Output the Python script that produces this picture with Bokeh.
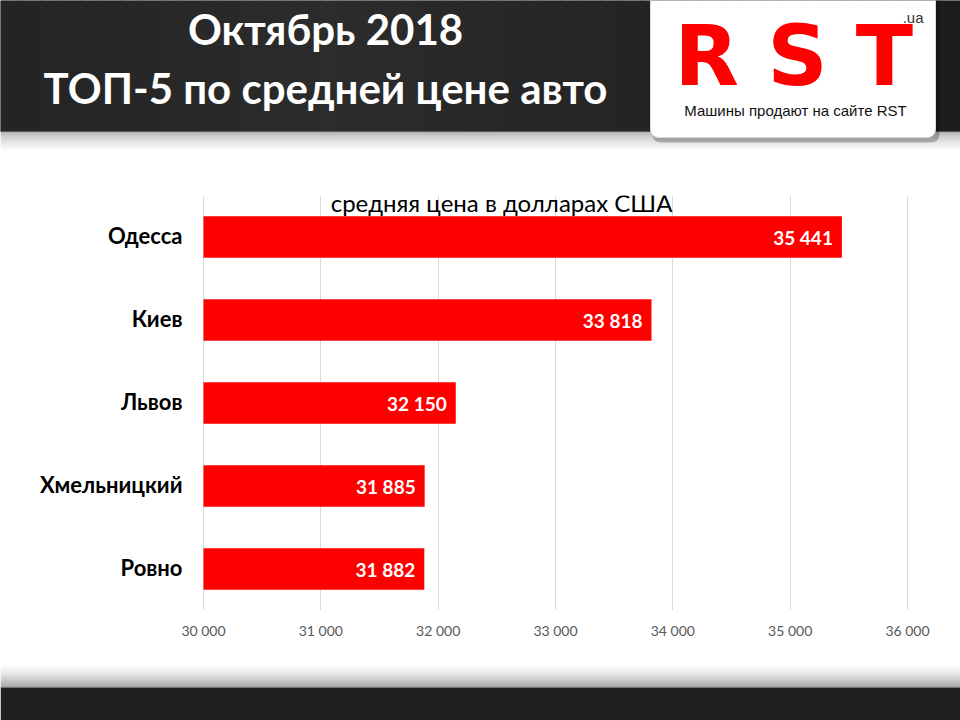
from bokeh.plotting import figure
from bokeh.models import Range1d, FactorRange, FixedTicker, ColumnDataSource, Quad
from bokeh.layouts import column
from bokeh.embed import file_html
from bokeh.resources import INLINE
from bokeh.core.properties import value
from bokeh.transform import dodge

# ---------------- data ----------------
title_lines = ["Октябрь 2018", "ТОП-5 по средней цене авто"]
subtitle = "средняя цена в долларах США"
cities = ["Одесса", "Киев", "Львов", "Хмельницкий", "Ровно"]
prices = [35441, 33818, 32150, 31885, 31882]
price_labels = ["35 441", "33 818", "32 150", "31 885", "31 882"]
x_ticks = [30000, 31000, 32000, 33000, 34000, 35000, 36000]
x_tick_labels = ["30 000", "31 000", "32 000", "33 000", "34 000", "35 000", "36 000"]
logo_main = "RST"
logo_suffix = ".ua"
logo_tagline = "Машины продают на сайте RST"

FONT = "Lato"
W = 960
# pixel anchors of the value axis (left/right ends of the plotted scale)
AX_LEFT_PX, AX_RIGHT_PX = 203, 907


def lerp_hex(c1, c2, t):
    a = [int(c1[i:i + 2], 16) for i in (1, 3, 5)]
    b = [int(c2[i:i + 2], 16) for i in (1, 3, 5)]
    return "#" + "".join("%02x" % int(round(a[k] + (b[k] - a[k]) * t)) for k in range(3))


def bare(fig):
    fig.grid.visible = False
    fig.outline_line_color = None
    fig.background_fill_color = "white"
    fig.border_fill_color = "white"
    return fig


HAS_RADIUS = "border_radius" in Quad.properties()

# ---------------- header ----------------
H_HEAD = 150
h = figure(width=W, height=H_HEAD, x_range=Range1d(0, W), y_range=Range1d(H_HEAD, 0),
           output_backend="svg", toolbar_location=None, min_border=0,
           x_axis_location=None, y_axis_location=None)
bare(h)

n_strips = 48
lefts = [i * 20 for i in range(n_strips)]
rights = [l + 20 for l in lefts]
cols = []
for l in lefts:
    d = min(abs(l + 10 - 330) / 630.0, 1.0)
    cols.append(lerp_hex("#2c2c2c", "#1c1c1c", d))
h.quad(left=lefts, right=rights, top=[0] * n_strips, bottom=[131] * n_strips,
       fill_color=cols, line_color=cols)

rows = list(range(131, 150))
gcols = [lerp_hex("#8c8c8c", "#fbfbfb", ((r - 131) / 18.0) ** 0.6) for r in rows]
h.quad(left=[0] * len(rows), right=[W] * len(rows), top=rows, bottom=[r + 1 for r in rows],
       fill_color=gcols, line_color=None)

# logo card (shadow + white card)
extra = dict(border_radius=8) if HAS_RADIUS else {}
h.quad(left=[652], right=[939], top=[-10], bottom=[142], fill_color="black",
       fill_alpha=0.25, line_color=None, **extra)
h.quad(left=[650], right=[935], top=[-10], bottom=[137], fill_color="white",
       line_color="#d8d8d8", **extra)

h.text(x=[325, 325], y=[28, 87], text=title_lines, text_color="white",
       text_font=value(FONT), text_font_style="bold", text_font_size="42px",
       text_align="center", text_baseline="middle")

h.text(x=[706, 797, 884], y=[55, 55, 55], text=list(logo_main), text_color="#ff0000",
       text_font=value("DejaVu Sans"), text_font_style="bold", text_font_size="84px",
       text_align="center", text_baseline="middle")
h.text(x=[923], y=[17], text=[logo_suffix], text_color="#333333",
       text_font=value("Liberation Sans"), text_font_size="15px",
       text_align="right", text_baseline="middle")
h.text(x=[795], y=[110], text=[logo_tagline], text_color="#111111",
       text_font=value("Liberation Sans"), text_font_size="15px",
       text_align="center", text_baseline="middle")

# ---------------- chart ----------------
px_per_unit = (AX_RIGHT_PX - AX_LEFT_PX) / float(x_ticks[-1] - x_ticks[0])
x_start = x_ticks[0] - AX_LEFT_PX / px_per_unit
x_end = x_ticks[-1] + (W - AX_RIGHT_PX) / px_per_unit

src = ColumnDataSource(dict(city=cities, price=prices, label=price_labels,
                            base=[x_ticks[0]] * len(cities)))

p = figure(width=W, height=500, x_range=Range1d(x_start, x_end),
           y_range=FactorRange(factors=cities[::-1]),
           output_backend="svg", toolbar_location=None, y_axis_location=None,
           min_border_left=0, min_border_right=0, min_border_top=45, min_border_bottom=40)
p.outline_line_color = None
p.background_fill_color = "white"
p.border_fill_color = "white"
p.ygrid.visible = False
p.xgrid.grid_line_color = "#d9d9d9"
p.xgrid.grid_line_width = 1
p.xgrid.ticker = FixedTicker(ticks=x_ticks)

p.hbar(y="city", left="base", right="price", height=0.5, source=src,
       fill_color="#ff0000", line_color=None)
p.text(x="price", y="city", text="label", source=src, x_offset=-9,
       text_color="white", text_font=value(FONT), text_font_style="bold",
       text_font_size="19px", text_align="right", text_baseline="middle")
# category labels, right-aligned left of the value axis origin
p.text(x="base", y="city", text="city", source=src, x_offset=-21, y_offset=-2,
       text_color="black", text_font=value(FONT), text_font_style="bold",
       text_font_size="22px", text_align="right", text_baseline="middle")

sub_src = ColumnDataSource(dict(x=[32540], city=[cities[0]], t=[subtitle]))
p.text(x="x", y=dodge("city", 0.41, range=p.y_range), text="t", source=sub_src,
       text_color="black", text_font=value(FONT), text_font_size="24px",
       text_align="center", text_baseline="middle")

xa = p.xaxis[0]
xa.ticker = FixedTicker(ticks=x_ticks)
xa.major_label_overrides = {t: lab for t, lab in zip(x_ticks, x_tick_labels)}
xa.axis_line_color = None
xa.major_tick_line_color = None
xa.minor_tick_line_color = None
xa.major_label_standoff = 5
xa.major_label_text_font = FONT
xa.major_label_text_font_size = "14px"
xa.major_label_text_color = "#595959"

# ---------------- footer ----------------
H_FOOT = 70
f = figure(width=W, height=H_FOOT, x_range=Range1d(0, W), y_range=Range1d(H_FOOT, 0),
           output_backend="svg", toolbar_location=None, min_border=0,
           x_axis_location=None, y_axis_location=None)
bare(f)
frows = list(range(12, 37))
fcols = [lerp_hex("#ffffff", "#8a8a8a", ((r - 12) / 24.0) ** 1.6) for r in frows]
f.quad(left=[0] * len(frows), right=[W] * len(frows), top=frows, bottom=[r + 1 for r in frows],
       fill_color=fcols, line_color=None)
f.quad(left=[0], right=[W], top=[37], bottom=[70], fill_color="#1f1f1f", line_color=None)

layout = column(h, p, f, spacing=0)
open("out.html", "w").write(file_html(layout, INLINE))
